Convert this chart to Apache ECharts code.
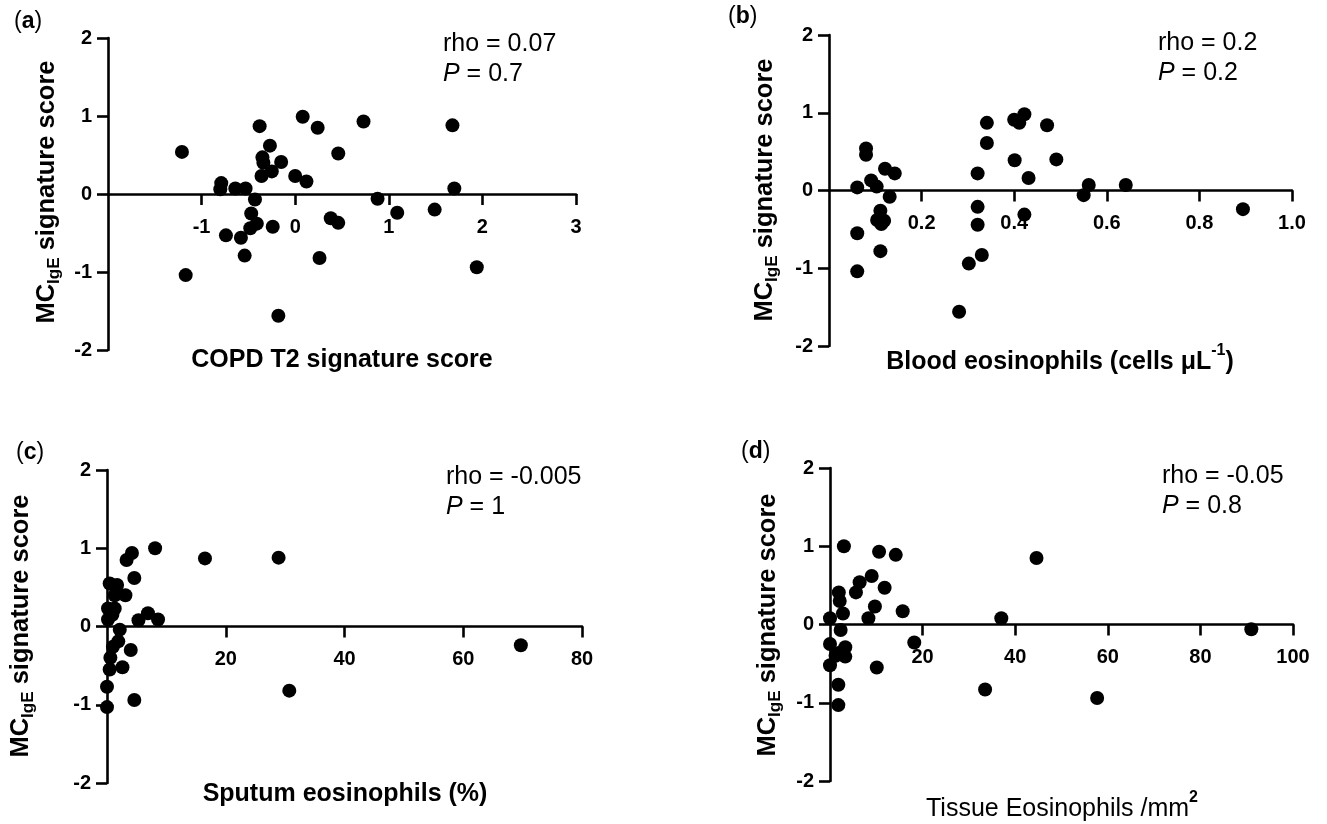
<!DOCTYPE html>
<html>
<head>
<meta charset="utf-8">
<script src="https://cdn.jsdelivr.net/npm/echarts@6/dist/echarts.min.js"></script>
<style>
html,body{margin:0;padding:0;background:#fff;}
#chart{width:1327px;height:824px;}
</style>
</head>
<body>
<div id="chart"></div>
<script>
// ---- Data ----
// (a) COPD T2 signature score vs MC_IgE score
const aX = [-1.21,-1.17,-0.79,-0.80,-0.74,-0.64,-0.53,-0.58,-0.54,-0.43,-0.47,-0.48,-0.41,-0.38,-0.35,-0.34,-0.36,-0.27,-0.25,-0.15,-0.24,-0.18,0.00,0.08,0.12,0.24,0.26,0.38,0.46,0.46,0.73,0.88,1.09,1.49,1.68,1.70,1.94];
const aY = [0.54,-1.04,0.14,0.06,-0.53,0.07,0.07,-0.56,-0.79,-0.07,-0.25,-0.44,-0.38,0.87,0.47,0.40,0.23,0.62,0.29,0.41,-0.42,-1.56,0.23,0.99,0.16,0.85,-0.82,-0.31,-0.37,0.52,0.93,-0.06,-0.24,-0.20,0.88,0.07,-0.94];
// (b) Blood eosinophils
const bX = [0.061,0.080,0.080,0.091,0.103,0.121,0.142,0.131,0.111,0.104,0.119,0.113,0.061,0.111,0.061,0.341,0.341,0.321,0.321,0.321,0.330,0.302,0.281,0.400,0.411,0.422,0.401,0.431,0.422,0.471,0.491,0.550,0.561,0.641,0.894];
const bY = [0.04,0.54,0.46,0.13,0.05,0.28,0.22,-0.08,-0.26,-0.38,-0.39,-0.43,-0.55,-0.78,-1.04,0.87,0.61,0.22,-0.21,-0.44,-0.83,-0.94,-1.56,0.91,0.87,0.98,0.39,0.16,-0.31,0.84,0.40,-0.06,0.07,0.07,-0.24];
// (c) Sputum eosinophils (%)
const cX = [8.1,16.5,4.2,3.3,4.6,0.45,1.7,1.3,3.1,0.17,1.3,0.17,0.9,5.3,6.9,8.6,2.15,1.9,1.0,4.0,0.57,0.45,2.6,0.0,4.6,0.0,28.9,30.7,69.7];
const cY = [1.00,0.87,0.94,0.85,0.62,0.55,0.53,0.40,0.40,0.23,0.23,0.09,0.15,0.08,0.17,0.09,-0.04,-0.19,-0.26,-0.30,-0.40,-0.55,-0.52,-0.77,-0.94,-1.03,0.88,-0.82,-0.24];
// (d) Tissue eosinophils /mm2
const dX = [3.0,10.6,14.2,9.0,6.4,5.6,11.8,1.9,2.1,9.7,2.8,8.3,0.0,15.7,2.3,0.0,3.3,3.3,1.2,2.1,0.0,10.1,1.8,1.8,18.2,33.5,37.0,44.6,57.7,91.0];
const dY = [1.00,0.93,0.89,0.62,0.54,0.41,0.47,0.41,0.30,0.23,0.14,0.08,0.08,0.17,-0.07,-0.25,-0.29,-0.41,-0.40,-0.36,-0.52,-0.55,-0.77,-1.03,-0.23,-0.83,0.08,0.85,-0.94,-0.06];

const panelLabels = ['a','b','c','d'];
const rhoTexts = ['rho = 0.07','rho = 0.2','rho = -0.005','rho = -0.05'];
const pTexts = [' = 0.7',' = 0.2',' = 1',' = 0.8'];
const xRanges = [[-2,3,1],[0,1,0.2],[0,80,20],[0,100,20]];
const yRange = [-2,2,1];

// ---- Layout ----
const FF = "'Liberation Sans', Arial, sans-serif";
const grids = [
  {left:108, top:38, width:468, height:312},
  {left:829, top:35, width:463, height:311},
  {left:107, top:470, width:475, height:313},
  {left:830, top:468, width:463, height:313}
];
const sets = [[aX,aY],[bX,bY],[cX,cY],[dX,dY]];

const xAxes = xRanges.map((r,i)=>({
  gridIndex:i, type:'value', min:r[0], max:r[1], interval:r[2],
  // place the x axis line where y = 0 (derived from the y range)
  offset: -grids[i].height * (0 - yRange[0]) / (yRange[1] - yRange[0]),
  splitLine:{show:false},
  axisLine:{onZero:false, lineStyle:{color:'#000', width:2.6}},
  axisTick:{length:11, lineStyle:{color:'#000', width:2.6}},
  axisLabel:{showMinLabel:false, margin:23, color:'#000', fontSize:20, fontWeight:'bold', fontFamily:FF,
    formatter: v => i===1 ? v.toFixed(1) : String(v)}
}));
const yAxes = sets.map((s,i)=>({
  gridIndex:i, type:'value', min:yRange[0], max:yRange[1], interval:yRange[2],
  splitLine:{show:false},
  axisLine:{onZero:false, lineStyle:{color:'#000', width:2.6}},
  axisTick:{length:11, lineStyle:{color:'#000', width:2.6}},
  axisLabel:{margin:16, color:'#000', fontSize:20, fontWeight:'bold', fontFamily:FF}
}));
const series = sets.map((s,i)=>({
  type:'scatter', xAxisIndex:i, yAxisIndex:i, symbolSize:14, clip:false, z:5,
  itemStyle:{color:'#000', opacity:1},
  data: s[0].map((x,k)=>[x, s[1][k]])
}));

// text positions
const labelPos = [[14,22],[728,17],[16,453],[741,452]];
const rhoPos = [[443,44],[1158,43],[446,477],[1162,476]];
const pGap = 30;
const xTitlePos = [[342,357],[1060,359],[345,791],[1062,806]];
const yTitlePos = [[48,192],[766,190],[22,626],[769,625]];

const graphic = [];
panelLabels.forEach((l,i)=>{
  graphic.push({type:'text', x:labelPos[i][0], y:labelPos[i][1], z:10,
    style:{text:'{r|(}{b|'+l+'}{r|)}', fill:'#000', fontFamily:FF, fontSize:23, verticalAlign:'middle',
      rich:{r:{fontSize:23,fontFamily:FF,fill:'#000'}, b:{fontSize:23,fontWeight:'bold',fontFamily:FF,fill:'#000'}}}});
  graphic.push({type:'text', x:rhoPos[i][0], y:rhoPos[i][1], z:10,
    style:{text:rhoTexts[i], fill:'#000', fontFamily:FF, fontSize:25, verticalAlign:'middle', align:'left'}});
  graphic.push({type:'text', x:rhoPos[i][0], y:rhoPos[i][1]+pGap, z:10,
    style:{text:'{i|P}{n|'+pTexts[i]+'}', verticalAlign:'middle', align:'left', fontFamily:FF, fontSize:25,
      rich:{i:{fontStyle:'italic',fontSize:25,fontFamily:FF,fill:'#000'}, n:{fontSize:25,fontFamily:FF,fill:'#000'}}}});
  // y title (MC with subscript IgE)
  graphic.push({type:'text', x:yTitlePos[i][0], y:yTitlePos[i][1], rotation:Math.PI/2, z:10,
    style:{text:'{m|MC}{s|IgE}{m| signature score}', align:'center', verticalAlign:'middle', fontFamily:FF,
      rich:{m:{fontSize:25.5,fontWeight:'bold',fontFamily:FF,fill:'#000',verticalAlign:'top'},
            s:{fontSize:17,fontWeight:'bold',fontFamily:FF,fill:'#000',verticalAlign:'top',padding:[12,0,0,0]}}}});
});
// x titles
const xt = [
  '{m|COPD T2 signature score}',
  '{m|Blood eosinophils (cells μL}{s|-1}{m|)}',
  '{m|Sputum eosinophils (%)}',
  '{n|Tissue Eosinophils /mm}{t|2}'
];
const xRich = {
  m:{fontSize:25,fontWeight:'bold',fontFamily:FF,fill:'#000',verticalAlign:'top',padding:[7,0,0,0]},
  s:{fontSize:16,fontWeight:'bold',fontFamily:FF,fill:'#000',verticalAlign:'top'},
  n:{fontSize:25,fontFamily:FF,fill:'#000',verticalAlign:'top',padding:[7,0,0,0]},
  t:{fontSize:16,fontWeight:'bold',fontFamily:FF,fill:'#000',verticalAlign:'top'}
};
xt.forEach((t,i)=>{
  graphic.push({type:'text', x:xTitlePos[i][0], y:xTitlePos[i][1], z:10,
    style:{text:t, align:'center', verticalAlign:'middle', fontFamily:FF, fill:'#000', rich:xRich}});
});

const chart = echarts.init(document.getElementById('chart'), null, {renderer:'canvas'});
chart.setOption({
  backgroundColor:'#fff',
  animation:false,
  grid: grids,
  xAxis: xAxes,
  yAxis: yAxes,
  series: series,
  graphic: graphic
});
</script>
</body>
</html>
